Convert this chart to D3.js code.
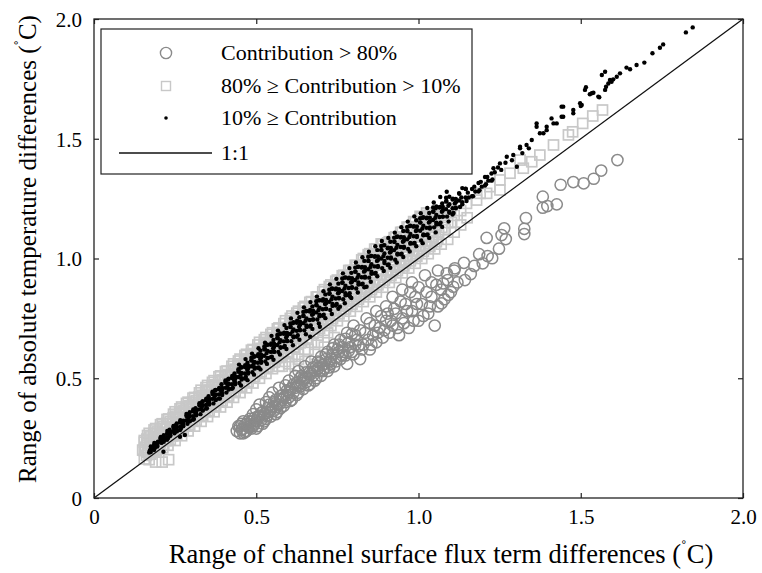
<!DOCTYPE html>
<html lang="en">
<head>
<meta charset="UTF-8">
<title>Range scatter</title>
<script src="https://cdn.jsdelivr.net/npm/d3@7/dist/d3.min.js"></script>
<style>
	body { margin: 0; background: #fff; }
	svg text { font-family: "Liberation Serif", "Times New Roman", serif; fill: #000; }
</style>
</head>
<body>
<svg width="762" height="573"></svg>
<script>
// tick values
const xTicks = [0, 0.5, 1.0, 1.5, 2.0];
const yTicks = [0, 0.5, 1.0, 1.5, 2.0];
const legendNames = ["Contribution > 80%", "80% \u2265 Contribution > 10%", "10% \u2265 Contribution", "1:1"];

// Contribution > 80%  [flux term range, absolute range]
const highPts = [
	[0.44,0.28],[0.45,0.27],[0.46,0.29],[0.45,0.30],[0.47,0.28],[0.47,0.31],[0.48,0.33],[0.46,0.32],
	[0.49,0.30],[0.50,0.32],[0.49,0.35],[0.51,0.34],[0.50,0.37],[0.52,0.31],[0.52,0.36],[0.51,0.39],
	[0.53,0.33],[0.54,0.36],[0.53,0.40],[0.55,0.38],[0.54,0.42],[0.56,0.35],[0.56,0.41],[0.55,0.44],
	[0.57,0.39],[0.58,0.43],[0.57,0.46],[0.59,0.40],[0.59,0.47],[0.60,0.44],[0.61,0.41],[0.60,0.49],
	[0.62,0.46],[0.62,0.51],[0.63,0.44],[0.64,0.48],[0.63,0.53],[0.65,0.50],[0.66,0.47],[0.65,0.55],
	[0.67,0.52],[0.68,0.49],[0.67,0.57],[0.69,0.54],[0.70,0.51],[0.70,0.59],[0.71,0.56],[0.72,0.53],
	[0.72,0.61],[0.73,0.58],[0.74,0.55],[0.75,0.62],[0.74,0.64],[0.76,0.58],[0.77,0.61],[0.76,0.66],
	[0.78,0.56],[0.79,0.63],[0.78,0.69],[0.80,0.60],[0.81,0.66],[0.80,0.72],[0.82,0.58],[0.83,0.64],
	[0.82,0.70],[0.84,0.75],[0.85,0.62],[0.86,0.68],[0.85,0.73],[0.87,0.65],[0.88,0.71],[0.87,0.78],
	[0.89,0.67],[0.90,0.74],[0.91,0.69],[0.90,0.80],[0.92,0.72],[0.93,0.77],[0.92,0.84],[0.94,0.68],
	[0.95,0.75],[0.96,0.81],[0.95,0.87],[0.97,0.71],[0.98,0.78],[0.99,0.84],[0.98,0.90],[1.00,0.74],
	[1.01,0.81],[1.00,0.88],[1.02,0.93],[1.03,0.77],[1.04,0.84],[1.05,0.72],[1.04,0.90],[1.06,0.80],
	[1.07,0.87],[1.06,0.95],[1.08,0.83],[1.09,0.91],[1.10,0.86],[1.11,0.95],[1.12,0.90],
	[0.46,0.27],[0.48,0.30],[0.50,0.29],[0.52,0.34],[0.54,0.39],[0.56,0.38],[0.58,0.41],[0.60,0.42],
	[0.61,0.46],[0.63,0.47],[0.64,0.51],[0.66,0.50],[0.68,0.53],[0.69,0.57],[0.71,0.54],[0.73,0.56],
	[0.445,0.30],[0.455,0.285],[0.465,0.305],[0.475,0.295],[0.485,0.32],[0.495,0.31],[0.505,0.34],
	[0.515,0.325],[0.525,0.35],[0.535,0.345],[0.545,0.37],[0.555,0.365],[0.565,0.39],[0.575,0.375],
	[0.585,0.42],[0.595,0.43],[0.605,0.455],[0.615,0.44],[0.625,0.48],[0.635,0.465],[0.645,0.50],
	[0.655,0.485],[0.665,0.525],[0.675,0.51],[0.685,0.55],[0.695,0.53],[0.705,0.555],[0.715,0.58],
	[0.725,0.57],[0.735,0.60],[0.745,0.585],[0.755,0.61],[0.765,0.63],[0.775,0.595],[0.785,0.65],
	[0.795,0.61],[0.805,0.68],[0.815,0.635],[0.825,0.62],[0.835,0.69],[0.845,0.66],[0.855,0.64],
	[0.865,0.72],[0.875,0.69],[0.885,0.76],[0.895,0.70],[0.905,0.77],[0.915,0.74],[0.925,0.79],
	[0.935,0.71],[0.945,0.82],[0.955,0.73],[0.965,0.78],[0.975,0.86],[0.985,0.74],[0.995,0.81],
	[1.015,0.76],[1.025,0.86],[1.035,0.80],[1.055,0.89],
	[0.455,0.31],[0.465,0.275],[0.475,0.32],[0.485,0.29],[0.495,0.335],[0.505,0.30],[0.515,0.355],
	[0.525,0.32],[0.535,0.375],[0.545,0.34],[0.555,0.40],[0.565,0.36],[0.575,0.425],[0.585,0.385],
	[0.595,0.45],[0.605,0.405],[0.615,0.475],[0.625,0.43],[0.635,0.50],[0.645,0.455],[0.655,0.525],
	[0.665,0.475],[0.675,0.545],[0.685,0.50],[0.695,0.565],[0.705,0.53],[0.715,0.60],[0.725,0.545],
	[0.735,0.625],[0.745,0.57],[0.755,0.64],[0.765,0.595],[0.775,0.665],[0.785,0.615],[0.795,0.685],
	[0.805,0.64],
	[1.071,0.813],[1.092,0.848],[1.076,0.896],[1.107,0.882],[1.087,0.938],[1.143,0.910],[1.161,0.935],
	[1.112,0.959],[1.140,0.982],[1.172,0.969],[1.198,0.980],[1.187,1.018],[1.213,1.010],[1.227,1.001],
	[1.248,1.041],[1.210,1.086],[1.256,1.098],[1.269,1.081],[1.264,1.126],[1.326,1.102],[1.326,1.124],
	[1.331,1.169],[1.383,1.258],[1.383,1.212],[1.397,1.219],[1.426,1.226],[1.438,1.308],[1.477,1.319],
	[1.509,1.314],[1.540,1.333],[1.563,1.367],[1.613,1.411]
];

// 80% >= Contribution > 10%
const midPts = [
	[0.15,0.20],[0.155,0.24],[0.17,0.16],[0.168,0.19],[0.172,0.23],[0.17,0.27],
	[0.19,0.15],[0.192,0.20],[0.188,0.25],[0.19,0.29],[0.21,0.15],[0.212,0.21],[0.208,0.26],[0.21,0.31],
	[0.23,0.16],[0.228,0.22],[0.232,0.27],[0.23,0.33],[0.25,0.24],[0.248,0.29],[0.252,0.33],[0.25,0.36],
	[0.27,0.26],[0.272,0.31],[0.268,0.35],[0.27,0.38],[0.29,0.28],[0.288,0.33],[0.292,0.37],[0.29,0.40],
	[0.31,0.30],[0.312,0.35],[0.308,0.39],[0.31,0.42],[0.33,0.32],[0.328,0.37],[0.332,0.41],[0.33,0.45],
	[0.35,0.34],[0.352,0.39],[0.348,0.43],[0.35,0.47],[0.37,0.36],[0.368,0.41],[0.372,0.45],[0.37,0.49],
	[0.39,0.38],[0.392,0.43],[0.388,0.47],[0.39,0.51],[0.41,0.40],[0.408,0.45],[0.412,0.49],[0.41,0.53],
	[0.43,0.42],[0.432,0.47],[0.428,0.51],[0.43,0.56],[0.45,0.44],[0.448,0.49],[0.452,0.54],[0.45,0.58],
	[0.47,0.46],[0.472,0.51],[0.468,0.56],[0.47,0.60],[0.49,0.48],[0.488,0.53],[0.492,0.58],[0.49,0.62],
	[0.51,0.50],[0.512,0.55],[0.508,0.60],[0.51,0.65],[0.53,0.52],[0.528,0.57],[0.532,0.62],[0.53,0.67],
	[0.55,0.54],[0.552,0.59],[0.548,0.64],[0.55,0.69],[0.57,0.55],[0.568,0.61],[0.572,0.66],[0.57,0.71],
	[0.59,0.57],[0.592,0.63],[0.588,0.68],[0.59,0.74],[0.61,0.59],[0.608,0.65],[0.612,0.70],[0.61,0.76],
	[0.63,0.60],[0.632,0.67],[0.628,0.72],[0.63,0.78],[0.65,0.62],[0.648,0.69],[0.652,0.74],[0.65,0.80],
	[0.67,0.65],[0.672,0.71],[0.668,0.77],[0.67,0.82],[0.69,0.68],[0.688,0.73],[0.692,0.79],[0.69,0.84],
	[0.71,0.70],[0.712,0.76],[0.708,0.81],[0.71,0.87],[0.73,0.72],[0.728,0.78],[0.732,0.83],[0.73,0.89],
	[0.75,0.74],[0.752,0.80],[0.748,0.85],[0.75,0.91],[0.77,0.76],[0.768,0.82],[0.772,0.88],[0.77,0.93],
	[0.79,0.78],[0.792,0.84],[0.788,0.90],[0.79,0.95],[0.81,0.80],[0.808,0.86],[0.812,0.92],[0.81,0.97],
	[0.83,0.82],[0.832,0.88],[0.828,0.94],[0.83,1.00],[0.85,0.84],[0.848,0.90],[0.852,0.96],[0.85,1.02],
	[0.87,0.86],[0.872,0.93],[0.868,0.98],[0.87,1.04],[0.89,0.88],[0.888,0.95],[0.892,1.00],[0.89,1.06],
	[0.91,0.90],[0.912,0.97],[0.908,1.03],[0.91,1.07],[0.93,0.92],[0.928,0.99],[0.932,1.05],[0.93,1.09],
	[0.95,0.94],[0.952,1.01],[0.948,1.07],[0.95,1.11],[0.97,0.96],[0.968,1.03],[0.972,1.09],[0.97,1.13],
	[0.99,0.98],[0.992,1.05],[0.988,1.11],[0.99,1.15],[1.01,1.00],[1.008,1.07],[1.012,1.13],[1.01,1.17],
	[1.03,1.02],[1.032,1.09],[1.028,1.15],[1.03,1.18],[1.05,1.04],[1.052,1.11],[1.05,1.17],
	[1.07,1.06],[1.072,1.13],[1.07,1.19],[1.09,1.08],[1.09,1.15],[1.09,1.21],[1.11,1.11],[1.11,1.18],
	[1.13,1.14],[1.13,1.20],[1.148,1.23],[1.15,1.17],[1.179,1.244],[1.19,1.272],[1.22,1.30],[1.21,1.272],
	[1.251,1.328],[1.251,1.286],[1.282,1.356],[1.313,1.411],[1.323,1.377],[1.349,1.404],[1.374,1.432],
	[1.416,1.474],[1.462,1.516],[1.475,1.529],[1.506,1.564],[1.537,1.595],[1.567,1.62],
	[0.58,0.55],[0.60,0.56],[0.62,0.55],[0.63,0.58],[0.65,0.57],[0.66,0.62],[0.68,0.60],[0.69,0.65],
	[0.71,0.63],[0.72,0.69],[0.74,0.67],
	[0.162,0.178],[0.158,0.212],[0.163,0.246],[0.182,0.198],[0.178,0.234],[0.184,0.269],
	[0.202,0.219],[0.198,0.254],[0.204,0.290],[0.222,0.239],[0.218,0.275],[0.224,0.312],
	[0.242,0.259],[0.238,0.297],[0.244,0.335],[0.262,0.280],[0.258,0.318],[0.264,0.356],
	[0.282,0.300],[0.278,0.339],[0.284,0.379],[0.302,0.321],[0.298,0.360],[0.304,0.400],
	[0.322,0.341],[0.318,0.382],[0.324,0.422],[0.342,0.361],[0.338,0.403],[0.344,0.445],
	[0.362,0.382],[0.358,0.424],[0.364,0.466],[0.382,0.402],[0.378,0.445],[0.384,0.489],
	[0.402,0.423],[0.398,0.466],[0.404,0.510],[0.422,0.443],[0.418,0.488],[0.424,0.532],
	[0.442,0.463],[0.438,0.509],[0.444,0.555],[0.462,0.484],[0.458,0.530],[0.464,0.576],
	[0.482,0.504],[0.478,0.551],[0.484,0.599],[0.502,0.525],[0.498,0.572],[0.504,0.620],
	[0.522,0.545],[0.518,0.594],[0.524,0.642],[0.542,0.565],[0.538,0.615],[0.544,0.665],
	[0.562,0.586],[0.558,0.636],[0.564,0.686],[0.582,0.606],[0.578,0.657],[0.584,0.709],
	[0.602,0.627],[0.598,0.678],[0.604,0.730],[0.622,0.647],[0.618,0.700],[0.624,0.752],
	[0.642,0.668],[0.638,0.721],[0.644,0.774],[0.662,0.688],[0.658,0.742],[0.664,0.796],
	[0.682,0.708],[0.678,0.763],[0.684,0.819],[0.702,0.729],[0.698,0.784],[0.704,0.840],
	[0.722,0.749],[0.718,0.806],[0.724,0.862],[0.742,0.770],[0.738,0.827],[0.744,0.884],
	[0.762,0.790],[0.758,0.848],[0.764,0.906],[0.782,0.810],[0.778,0.869],[0.784,0.929],
	[0.802,0.831],[0.798,0.890],[0.804,0.950],[0.822,0.851],[0.818,0.912],[0.824,0.972],
	[0.842,0.872],[0.838,0.933],[0.844,0.994],[0.862,0.892],[0.858,0.954],[0.864,1.016],
	[0.882,0.912],[0.878,0.975],[0.884,1.035],[0.902,0.933],[0.898,0.996],[0.904,1.050],
	[0.922,0.953],[0.918,1.010],[0.924,1.070],[0.942,0.974],[0.938,1.030],[0.944,1.090],
	[0.962,0.994],[0.958,1.050],[0.964,1.110],[0.982,1.014],[0.978,1.070],[0.984,1.130],
	[1.002,1.035],[0.998,1.090],[1.004,1.150],[1.022,1.055],[1.018,1.110],[1.024,1.165],
	[1.042,1.075],[1.038,1.130],[1.044,1.180],[1.062,1.100],[1.058,1.150],[1.082,1.120],[1.078,1.180],
	[1.102,1.150],[1.098,1.200],
	[0.155,0.163],[0.155,0.198],[0.155,0.233],[0.175,0.183],[0.175,0.220],[0.175,0.255],
	[0.195,0.204],[0.195,0.241],[0.195,0.276],[0.215,0.224],[0.215,0.262],[0.215,0.298],
	[0.235,0.244],[0.235,0.283],[0.235,0.320],[0.255,0.264],[0.255,0.304],[0.255,0.342],
	[0.275,0.284],[0.275,0.325],[0.275,0.364],[0.295,0.305],[0.295,0.346],[0.295,0.385],
	[0.315,0.325],[0.315,0.367],[0.315,0.407],[0.335,0.345],[0.335,0.388],[0.335,0.429],
	[0.355,0.365],[0.355,0.409],[0.355,0.451],[0.375,0.385],[0.375,0.430],[0.375,0.473],
	[0.395,0.406],[0.395,0.451],[0.395,0.494],[0.415,0.426],[0.415,0.472],[0.415,0.516],
	[0.435,0.446],[0.435,0.493],[0.435,0.538],[0.455,0.466],[0.455,0.514],[0.455,0.560],
	[0.475,0.486],[0.475,0.535],[0.475,0.582],[0.495,0.507],[0.495,0.556],[0.495,0.603],
	[0.515,0.527],[0.515,0.577],[0.515,0.625],[0.535,0.547],[0.535,0.598],[0.535,0.647],
	[0.555,0.567],[0.555,0.619],[0.555,0.669],[0.575,0.587],[0.575,0.640],[0.575,0.691],
	[0.595,0.608],[0.595,0.661],[0.595,0.712],[0.615,0.628],[0.615,0.682],[0.615,0.734],
	[0.635,0.648],[0.635,0.703],[0.635,0.756],[0.655,0.668],[0.655,0.724],[0.655,0.778],
	[0.675,0.688],[0.675,0.745],[0.675,0.800],[0.695,0.708],[0.695,0.766],[0.695,0.821],
	[0.715,0.729],[0.715,0.787],[0.715,0.843],[0.735,0.749],[0.735,0.808],[0.735,0.865],
	[0.755,0.769],[0.755,0.829],[0.755,0.887],[0.775,0.789],[0.775,0.850],[0.775,0.909],
	[0.795,0.809],[0.795,0.871],[0.795,0.930],[0.815,0.830],[0.815,0.892],[0.815,0.952],
	[0.835,0.850],[0.835,0.913],[0.835,0.974],[0.855,0.870],[0.855,0.934],[0.855,0.996],
	[0.875,0.890],[0.875,0.955],[0.875,1.018],[0.895,0.910],[0.895,0.976],[0.895,1.039],
	[0.915,0.929],[0.915,0.988],[0.915,1.046],[0.935,0.949],[0.935,1.009],[0.935,1.068],
	[0.955,0.969],[0.955,1.030],[0.955,1.090],[0.975,0.990],[0.975,1.051],[0.975,1.112],
	[0.995,1.010],[0.995,1.072],[0.995,1.133],[1.015,1.030],[1.015,1.093],[1.015,1.155],
	[1.035,1.050],[1.035,1.114],[1.035,1.177],[1.055,1.070],[1.055,1.136],[1.055,1.190],
	[0.165,0.191],[0.165,0.226],[0.165,0.261],[0.185,0.212],[0.185,0.247],[0.185,0.284],
	[0.205,0.232],[0.205,0.269],[0.205,0.306],[0.225,0.253],[0.225,0.290],[0.225,0.328],
	[0.245,0.274],[0.245,0.311],[0.245,0.350],[0.265,0.294],[0.265,0.333],[0.265,0.372],
	[0.285,0.315],[0.285,0.354],[0.285,0.395],[0.305,0.335],[0.305,0.376],[0.305,0.417],
	[0.325,0.356],[0.325,0.397],[0.325,0.439],[0.345,0.377],[0.345,0.418],[0.345,0.461],
	[0.365,0.397],[0.365,0.440],[0.365,0.483],[0.385,0.418],[0.385,0.461],[0.385,0.506],
	[0.405,0.438],[0.405,0.482],[0.405,0.528],[0.425,0.459],[0.425,0.504],[0.425,0.550],
	[0.445,0.480],[0.445,0.525],[0.445,0.572],[0.465,0.500],[0.465,0.547],[0.465,0.595],
	[0.485,0.521],[0.485,0.568],[0.485,0.617],[0.505,0.541],[0.505,0.589],[0.505,0.639],
	[0.525,0.562],[0.525,0.611],[0.525,0.661],[0.545,0.583],[0.545,0.632],[0.545,0.683],
	[0.565,0.603],[0.565,0.654],[0.565,0.706],[0.585,0.624],[0.585,0.675],[0.585,0.728],
	[0.605,0.644],[0.605,0.696],[0.605,0.750],[0.625,0.665],[0.625,0.718],[0.625,0.772],
	[0.645,0.686],[0.645,0.739],[0.645,0.794],[0.665,0.706],[0.665,0.761],[0.665,0.817],
	[0.685,0.727],[0.685,0.782],[0.685,0.839],[0.705,0.747],[0.705,0.803],[0.705,0.861],
	[0.725,0.768],[0.725,0.825],[0.725,0.883],[0.745,0.789],[0.745,0.846],[0.745,0.905],
	[0.765,0.809],[0.765,0.868],[0.765,0.928],[0.785,0.830],[0.785,0.889],[0.785,0.950],
	[0.805,0.850],[0.805,0.910],[0.805,0.972],[0.825,0.871],[0.825,0.932],[0.825,0.994],
	[0.845,0.892],[0.845,0.953],[0.845,1.016],[0.865,0.912],[0.865,0.975],[0.865,1.039],
	[0.885,0.933],[0.885,0.996],[0.885,1.061],[0.905,0.948],[0.905,1.006],[0.905,1.065],
	[0.925,0.969],[0.925,1.027],[0.925,1.087],[0.945,0.990],[0.945,1.048],[0.945,1.109],
	[0.965,1.010],[0.965,1.070],[0.965,1.131],[0.985,1.031],[0.985,1.091],[0.985,1.154],
	[1.005,1.051],[1.005,1.113],[1.005,1.176],[1.025,1.072],[1.025,1.134],[1.025,1.190],
	[1.045,1.090],[1.045,1.155]
];

// 10% >= Contribution
const lowPts = [
	[0.170,0.19],[0.175,0.205],[0.172,0.198],[0.178,0.21],
	[0.188,0.21],[0.192,0.225],[0.195,0.215],[0.186,0.23],[0.197,0.235],
	[0.208,0.23],[0.212,0.245],[0.215,0.24],[0.206,0.255],[0.214,0.193],
	[0.228,0.25],[0.232,0.27],[0.235,0.26],[0.226,0.28],[0.233,0.285],
	[0.248,0.27],[0.252,0.29],[0.255,0.28],[0.246,0.30],[0.253,0.305],
	[0.268,0.29],[0.272,0.31],[0.275,0.30],[0.266,0.325],[0.273,0.32],[0.265,0.256],[0.28,0.263],
	[0.288,0.31],[0.292,0.335],[0.295,0.32],[0.286,0.345],[0.293,0.35],
	[0.308,0.33],[0.312,0.355],[0.315,0.345],[0.306,0.37],[0.313,0.375],
	[0.328,0.35],[0.332,0.38],[0.335,0.365],[0.326,0.39],[0.333,0.40],
	[0.348,0.375],[0.352,0.40],[0.355,0.39],[0.346,0.415],[0.353,0.425],
	[0.368,0.395],[0.372,0.425],[0.375,0.41],[0.366,0.44],[0.373,0.45],
	[0.388,0.415],[0.392,0.445],[0.395,0.43],[0.386,0.46],[0.393,0.475],
	[0.408,0.44],[0.412,0.47],[0.415,0.455],[0.406,0.485],[0.413,0.495],
	[0.428,0.46],[0.432,0.49],[0.435,0.475],[0.426,0.51],[0.433,0.52],
	[0.448,0.48],[0.452,0.515],[0.455,0.50],[0.446,0.53],[0.453,0.545],
	[0.468,0.505],[0.472,0.535],[0.475,0.52],[0.466,0.555],[0.473,0.565],
	[0.488,0.525],[0.492,0.56],[0.495,0.545],[0.486,0.575],[0.493,0.59],
	[0.508,0.545],[0.512,0.58],[0.515,0.565],[0.506,0.60],[0.513,0.615],
	[0.528,0.57],[0.532,0.605],[0.535,0.585],[0.526,0.625],[0.533,0.64],
	[0.548,0.59],[0.552,0.625],[0.555,0.61],[0.546,0.645],[0.553,0.66],
	[0.568,0.61],[0.572,0.65],[0.575,0.63],[0.566,0.67],[0.573,0.685],
	[0.588,0.635],[0.592,0.67],[0.595,0.655],[0.586,0.69],[0.593,0.71],
	[0.608,0.655],[0.612,0.695],[0.615,0.675],[0.606,0.715],[0.613,0.73],
	[0.628,0.68],[0.632,0.715],[0.635,0.70],[0.626,0.74],[0.633,0.755],
	[0.648,0.70],[0.652,0.74],[0.655,0.72],[0.646,0.76],[0.653,0.78],
	[0.668,0.72],[0.672,0.765],[0.675,0.745],[0.666,0.785],[0.673,0.80],[0.666,0.673],
	[0.688,0.745],[0.692,0.785],[0.695,0.765],[0.686,0.805],[0.693,0.825],[0.696,0.715],
	[0.708,0.765],[0.712,0.81],[0.715,0.79],[0.706,0.83],[0.713,0.85],
	[0.728,0.785],[0.732,0.83],[0.735,0.81],[0.726,0.855],[0.733,0.875],
	[0.748,0.81],[0.752,0.855],[0.755,0.835],[0.746,0.875],[0.753,0.895],[0.758,0.799],
	[0.768,0.83],[0.772,0.875],[0.775,0.855],[0.766,0.90],[0.773,0.92],
	[0.788,0.855],[0.792,0.90],[0.795,0.88],[0.786,0.92],[0.793,0.94],[0.789,0.841],
	[0.808,0.875],[0.812,0.92],[0.815,0.90],[0.806,0.945],[0.813,0.965],
	[0.828,0.895],[0.832,0.945],[0.835,0.92],[0.826,0.965],[0.833,0.99],[0.84,0.882],
	[0.848,0.92],[0.852,0.965],[0.855,0.945],[0.846,0.99],[0.853,1.01],
	[0.868,0.94],[0.872,0.99],[0.875,0.965],[0.866,1.01],[0.873,1.035],
	[0.888,0.96],[0.892,1.01],[0.895,0.99],[0.886,1.035],[0.893,1.055],
	[0.908,0.975],[0.912,1.025],[0.915,1.0],[0.906,1.045],[0.913,1.07],
	[0.928,0.995],[0.932,1.045],[0.935,1.02],[0.926,1.07],[0.933,1.09],
	[0.948,1.02],[0.952,1.07],[0.955,1.045],[0.946,1.09],[0.953,1.115],
	[0.968,1.04],[0.972,1.09],[0.975,1.065],[0.966,1.115],[0.973,1.135],
	[0.988,1.065],[0.992,1.115],[0.995,1.09],[0.986,1.135],[0.993,1.16],
	[1.008,1.075],[1.012,1.125],[1.015,1.10],[1.006,1.15],[1.013,1.17],
	[1.028,1.10],[1.032,1.15],[1.035,1.125],[1.026,1.17],[1.033,1.19],
	[1.048,1.13],[1.052,1.17],[1.055,1.15],[1.046,1.195],[1.053,1.21],
	[1.068,1.15],[1.072,1.195],[1.075,1.175],[1.066,1.215],[1.073,1.23],
	[1.088,1.175],[1.092,1.22],[1.095,1.195],[1.086,1.24],
	[1.108,1.19],[1.112,1.23],[1.115,1.21],[1.106,1.25],
	[1.128,1.215],[1.132,1.255],[1.135,1.235],[1.126,1.27],
	[1.148,1.24],[1.152,1.275],[1.155,1.255],[1.146,1.29],
	[1.168,1.26],[1.172,1.30],[1.175,1.28],[1.188,1.285],[1.192,1.32],[1.195,1.30],
	[1.208,1.31],[1.212,1.34],[1.215,1.325],[1.231,1.377],[1.235,1.36],[1.228,1.33],
	[1.251,1.397],[1.255,1.37],[1.272,1.425],[1.268,1.40],[1.292,1.432],[1.303,1.383],[1.288,1.41],
	[1.313,1.46],[1.313,1.467],[1.32,1.44],[1.333,1.474],[1.349,1.495],[1.34,1.46],
	[1.364,1.564],[1.364,1.55],[1.374,1.523],[1.385,1.523],[1.395,1.536],[1.395,1.55],
	[1.41,1.585],[1.416,1.564],[1.426,1.564],[1.441,1.592],[1.441,1.634],[1.446,1.592],[1.446,1.634],
	[1.477,1.606],[1.477,1.62],[1.498,1.648],[1.503,1.641],
	[1.50,1.637],[1.513,1.704],[1.516,1.715],[1.528,1.686],[1.534,1.69],[1.539,1.692],[1.554,1.676],
	[1.557,1.673],[1.565,1.766],[1.575,1.78],[1.575,1.704],[1.578,1.717],[1.585,1.731],[1.59,1.745],
	[1.595,1.738],[1.60,1.748],[1.611,1.759],[1.621,1.773],[1.641,1.797],[1.652,1.790],[1.672,1.808],
	[1.696,1.818],[1.721,1.857],[1.744,1.880],[1.754,1.894],[1.824,1.944],[1.845,1.965],
	[0.175,0.192],[0.175,0.204],[0.175,0.215],[0.185,0.21],[0.185,0.221],[0.185,0.20],
	[0.195,0.225],[0.195,0.23],[0.195,0.218],[0.205,0.246],[0.205,0.235],[0.205,0.251],
	[0.215,0.235],[0.215,0.25],[0.215,0.262],[0.225,0.254],[0.225,0.268],[0.225,0.243],
	[0.235,0.271],[0.235,0.277],[0.235,0.261],[0.245,0.294],[0.245,0.28],[0.245,0.301],
	[0.255,0.278],[0.255,0.295],[0.255,0.311],[0.265,0.297],[0.265,0.315],[0.265,0.284],
	[0.275,0.316],[0.275,0.323],[0.275,0.305],[0.285,0.342],[0.285,0.325],[0.285,0.351],
	[0.295,0.321],[0.295,0.341],[0.295,0.358],[0.305,0.342],[0.305,0.362],[0.305,0.327],
	[0.315,0.361],[0.315,0.369],[0.315,0.349],[0.325,0.387],[0.325,0.37],[0.325,0.396],
	[0.335,0.366],[0.335,0.386],[0.335,0.404],[0.345,0.388],[0.345,0.408],[0.345,0.373],
	[0.355,0.406],[0.355,0.414],[0.355,0.394],[0.365,0.434],[0.365,0.414],[0.365,0.444],
	[0.375,0.409],[0.375,0.432],[0.375,0.451],[0.385,0.432],[0.385,0.454],[0.385,0.415],
	[0.395,0.451],[0.395,0.46],[0.395,0.436],[0.405,0.481],[0.405,0.46],[0.405,0.491],
	[0.415,0.453],[0.415,0.477],[0.415,0.498],[0.425,0.475],[0.425,0.501],[0.425,0.456],
	[0.435,0.497],[0.435,0.507],[0.435,0.481],[0.445,0.527],[0.445,0.505],[0.445,0.538],
	[0.455,0.495],[0.455,0.522],[0.455,0.546],[0.465,0.52],[0.465,0.547],[0.465,0.499],
	[0.475,0.542],[0.475,0.552],[0.475,0.525],[0.485,0.574],[0.485,0.55],[0.485,0.586],
	[0.495,0.54],[0.495,0.568],[0.495,0.592],[0.505,0.565],[0.505,0.593],[0.505,0.544],
	[0.515,0.587],[0.515,0.598],[0.515,0.57],[0.525,0.62],[0.525,0.594],[0.525,0.633],
	[0.535,0.584],[0.535,0.614],[0.535,0.64],[0.545,0.61],[0.545,0.64],[0.545,0.588],
	[0.555,0.632],[0.555,0.644],[0.555,0.612],[0.565,0.667],[0.565,0.639],[0.565,0.681],
	[0.575,0.627],[0.575,0.659],[0.575,0.687],[0.585,0.654],[0.585,0.686],[0.585,0.63],
	[0.595,0.677],[0.595,0.689],[0.595,0.657],[0.605,0.714],[0.605,0.685],[0.605,0.729],
	[0.615,0.671],[0.615,0.704],[0.615,0.734],[0.625,0.698],[0.625,0.732],[0.625,0.673],
	[0.635,0.723],[0.635,0.736],[0.635,0.702],[0.645,0.761],[0.645,0.73],[0.645,0.777],
	[0.655,0.714],[0.655,0.75],[0.655,0.781],[0.665,0.743],[0.665,0.779],[0.665,0.716],
	[0.675,0.768],[0.675,0.782],[0.675,0.745],[0.685,0.806],[0.685,0.775],[0.685,0.822],
	[0.695,0.759],[0.695,0.795],[0.695,0.826],[0.705,0.788],[0.705,0.824],[0.705,0.761],
	[0.715,0.813],[0.715,0.827],[0.715,0.79],[0.725,0.853],[0.725,0.819],[0.725,0.87],
	[0.735,0.802],[0.735,0.841],[0.735,0.874],[0.745,0.833],[0.745,0.871],[0.745,0.804],
	[0.755,0.858],[0.755,0.872],[0.755,0.834],[0.765,0.899],[0.765,0.864],[0.765,0.917],
	[0.775,0.846],[0.775,0.886],[0.775,0.921],[0.785,0.877],[0.785,0.917],[0.785,0.847],
	[0.795,0.903],[0.795,0.918],[0.795,0.878],[0.805,0.945],[0.805,0.91],[0.805,0.962],
	[0.815,0.891],[0.815,0.931],[0.815,0.966],[0.825,0.922],[0.825,0.962],[0.825,0.892],
	[0.835,0.949],[0.835,0.964],[0.835,0.924],[0.845,0.99],[0.845,0.955],[0.845,1.007],
	[0.855,0.936],[0.855,0.976],[0.855,1.011],[0.865,0.967],[0.865,1.007],[0.865,0.937],
	[0.875,0.994],[0.875,1.009],[0.875,0.969],[0.885,1.035],[0.885,1.0],[0.885,1.052],
	[0.895,0.981],[0.895,1.021],[0.895,1.056],[0.905,1.003],[0.905,1.043],[0.905,0.973],
	[0.915,1.029],[0.915,1.044],[0.915,1.004],[0.925,1.07],[0.925,1.035],[0.925,1.087],
	[0.935,1.017],[0.935,1.057],[0.935,1.092],[0.945,1.048],[0.945,1.088],[0.945,1.018],
	[0.955,1.074],[0.955,1.089],[0.955,1.049],[0.965,1.115],[0.965,1.08],[0.965,1.132],
	[0.975,1.062],[0.975,1.102],[0.975,1.137],[0.985,1.093],[0.985,1.133],[0.985,1.063],
	[0.995,1.119],[0.995,1.134],[0.995,1.094],[1.005,1.151],[1.005,1.116],[1.005,1.168],
	[1.015,1.097],[1.015,1.137],[1.015,1.172],[1.025,1.128],[1.025,1.168],[1.025,1.098],
	[1.035,1.155],[1.035,1.17],[1.035,1.13],[1.045,1.196],[1.045,1.161],[1.045,1.213],
	[1.055,1.142],[1.055,1.182],[1.055,1.217],[1.065,1.173],[1.065,1.213],[1.065,1.143],
	[1.075,1.2],[1.075,1.215],[1.075,1.175],[1.085,1.238],[1.085,1.206],[1.085,1.254],
	[1.095,1.191],[1.095,1.227],[1.095,1.258],[1.105,1.21],[1.105,1.246],[1.105,1.184],
	[1.115,1.235],[1.115,1.249],[1.115,1.212],[1.125,1.273],[1.125,1.242],[1.135,1.226],[1.135,1.294],
	[1.145,1.255],[1.145,1.291],[1.165,1.29],[1.165,1.26],[1.185,1.315],[1.185,1.28],
	[1.205,1.34],[1.205,1.305],[1.225,1.355],[1.225,1.325],[1.245,1.38],
	[0.453,0.470],[0.447,0.557],[0.473,0.492],[0.467,0.580],[0.493,0.515],[0.487,0.603],
	[0.513,0.537],[0.507,0.625],[0.533,0.560],[0.527,0.648],[0.553,0.577],[0.547,0.677],
	[0.573,0.599],[0.567,0.699],[0.593,0.622],[0.587,0.722],[0.613,0.638],[0.607,0.750],
	[0.633,0.661],[0.627,0.773],[0.653,0.684],[0.647,0.796],[0.673,0.706],[0.667,0.818],
	[0.693,0.729],[0.687,0.841],[0.713,0.751],[0.707,0.863],[0.733,0.768],[0.727,0.892],
	[0.753,0.790],[0.747,0.915],[0.773,0.813],[0.767,0.938],[0.793,0.835],[0.787,0.960],
	[0.813,0.858],[0.807,0.983],[0.833,0.880],[0.827,1.005],[0.853,0.903],[0.847,1.028],
	[0.873,0.926],[0.867,1.051],[0.893,0.948],[0.887,1.073],[0.913,0.961],[0.907,1.086],
	[0.933,0.983],[0.927,1.108],[0.953,1.006],[0.947,1.131],[0.973,1.029],[0.967,1.154],
	[0.993,1.051],[0.987,1.176],[1.013,1.064],[1.007,1.189],[1.033,1.086],[1.027,1.211],
	[1.053,1.109],[1.047,1.234],[1.073,1.132],[1.067,1.257],[1.093,1.154],[1.087,1.279]
];

const oneToOne = [[0, 0], [2, 2]];

const svg = d3.select("svg");
const margin = {left: 94, right: 743, top: 19, bottom: 498};

const x = d3.scaleLinear().domain([0, 2]).range([margin.left, margin.right]);
const y = d3.scaleLinear().domain([0, 2]).range([margin.bottom, margin.top]);
const fmt = d => d === 0 ? "0" : d3.format(".1f")(d);

const tickFont = 21;

// axes, inward ticks on all four sides
const gx = svg.append("g").attr("transform", `translate(0,${margin.bottom})`)
	.call(d3.axisBottom(x).tickValues(xTicks).tickSizeInner(-5).tickSizeOuter(0).tickPadding(24).tickFormat(fmt));
const gy = svg.append("g").attr("transform", `translate(${margin.left},0)`)
	.call(d3.axisLeft(y).tickValues(yTicks).tickSizeInner(-5).tickSizeOuter(0).tickPadding(12).tickFormat(fmt));
svg.append("g").attr("transform", `translate(0,${margin.top})`)
	.call(d3.axisTop(x).tickValues(xTicks).tickSizeInner(-5).tickSizeOuter(0).tickFormat(""));
svg.append("g").attr("transform", `translate(${margin.right},0)`)
	.call(d3.axisRight(y).tickValues(yTicks).tickSizeInner(-5).tickSizeOuter(0).tickFormat(""));

svg.selectAll(".domain").remove();
svg.selectAll(".tick line").attr("stroke", "#222").attr("stroke-width", 1.2);
gx.selectAll("text").attr("font-size", tickFont).attr("font-family", "Liberation Serif").attr("dy", "0.1em");
gy.selectAll("text").attr("font-size", tickFont).attr("font-family", "Liberation Serif").attr("dy", "0.35em");

// data
const plot = svg.append("g");
plot.selectAll("rect.mid").data(midPts).join("rect").attr("class", "mid")
	.attr("x", d => x(d[0]) - 5).attr("y", d => y(d[1]) - 5)
	.attr("width", 10).attr("height", 10)
	.attr("fill", "none").attr("stroke", "#c8c8c8").attr("stroke-width", 1.7);
plot.selectAll("circle.high").data(highPts).join("circle").attr("class", "high")
	.attr("cx", d => x(d[0])).attr("cy", d => y(d[1])).attr("r", 5.6)
	.attr("fill", "none").attr("stroke", "#8a8a8a").attr("stroke-width", 1.5);
plot.selectAll("circle.low").data(lowPts).join("circle").attr("class", "low")
	.attr("cx", d => x(d[0])).attr("cy", d => y(d[1])).attr("r", 2.2)
	.attr("fill", "#000");

plot.append("path")
	.attr("d", d3.line().x(d => x(d[0])).y(d => y(d[1]))(oneToOne))
	.attr("stroke", "#111").attr("stroke-width", 1.3).attr("fill", "none");

// frame
svg.append("rect").attr("x", margin.left).attr("y", margin.top)
	.attr("width", margin.right - margin.left).attr("height", margin.bottom - margin.top)
	.attr("fill", "none").attr("stroke", "#222").attr("stroke-width", 1.3);

// legend
const lg = svg.append("g");
lg.append("rect").attr("x", 101).attr("y", 29).attr("width", 371).attr("height", 145)
	.attr("fill", "#fff").attr("stroke", "#222").attr("stroke-width", 1.2);
const rowY = [53, 86, 118, 153];
lg.append("circle").attr("cx", 166).attr("cy", rowY[0]).attr("r", 5.6)
	.attr("fill", "none").attr("stroke", "#8a8a8a").attr("stroke-width", 1.4);
lg.append("rect").attr("x", 161.5).attr("y", rowY[1] - 4.5).attr("width", 9).attr("height", 9)
	.attr("fill", "none").attr("stroke", "#c8c8c8").attr("stroke-width", 1.4);
lg.append("circle").attr("cx", 166).attr("cy", rowY[2]).attr("r", 1.8).attr("fill", "#000");
lg.append("line").attr("x1", 119).attr("x2", 212).attr("y1", rowY[3]).attr("y2", rowY[3])
	.attr("stroke", "#111").attr("stroke-width", 1.3);
lg.selectAll("text").data(legendNames).join("text")
	.attr("x", 221).attr("y", (d, i) => rowY[i] + 7)
	.attr("font-size", 22).text(d => d);

// axis titles
const xt = svg.append("text").attr("x", 441).attr("y", 563)
	.attr("text-anchor", "middle").attr("font-size", 26.5);
xt.append("tspan").text("Range of channel surface flux term differences (");
xt.append("tspan").attr("font-size", 17).attr("dy", -10).text("\u02DA");
xt.append("tspan").attr("dy", 10).text("C)");

const yt = svg.append("text").attr("transform", "translate(36,249) rotate(-90)")
	.attr("text-anchor", "middle").attr("font-size", 25);
yt.append("tspan").text("Range of absolute temperature differences (");
yt.append("tspan").attr("font-size", 16).attr("dy", -9).text("\u02DA");
yt.append("tspan").attr("dy", 9).text("C)");
</script>
</body>
</html>
